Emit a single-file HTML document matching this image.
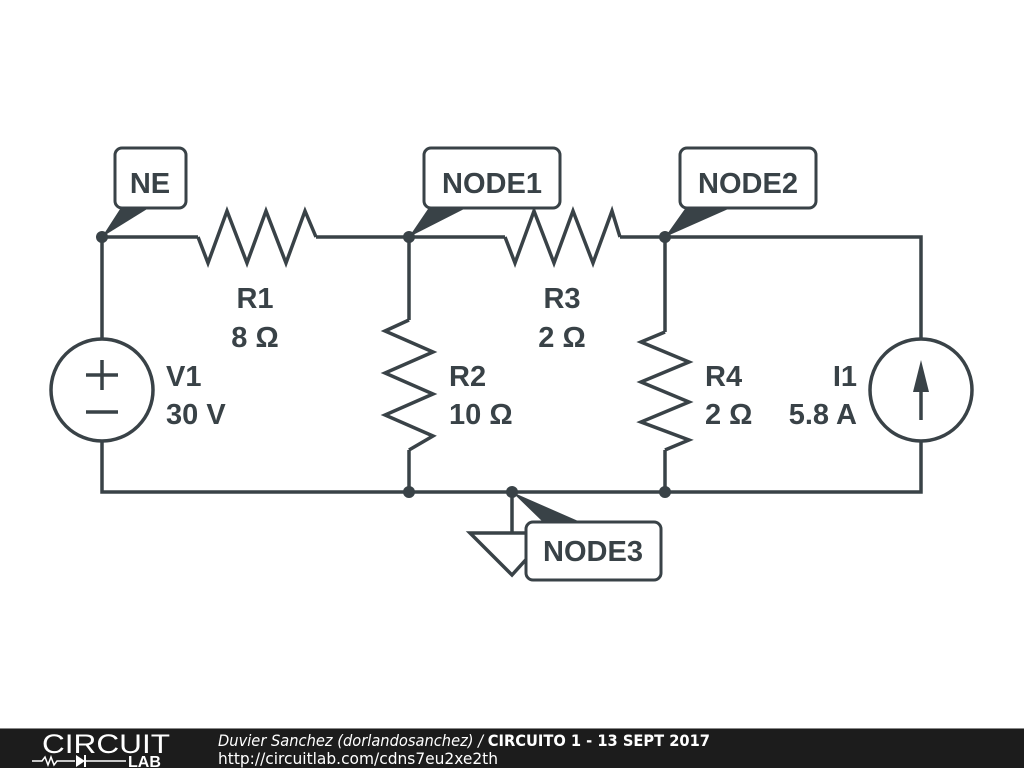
<!DOCTYPE html>
<html><head><style>
html,body{margin:0;padding:0;background:#fff;width:1024px;height:768px;overflow:hidden}
svg{display:block}
text{font-family:"Liberation Sans",sans-serif;font-weight:bold;fill:#394247}
</style></head><body>
<svg width="1024" height="768" viewBox="0 0 1024 768">
<g stroke="#394247" stroke-width="3.5" fill="none" stroke-linejoin="miter">
<polyline points="102,390 102,237 198,237"/>
<polyline points="316,237 505,237"/>
<polyline points="620,237 921,237 921,390"/>
<polyline points="102,390 102,492 921,492 921,390"/>
<line x1="409" y1="237" x2="409" y2="320"/>
<line x1="409" y1="450" x2="409" y2="492"/>
<line x1="665" y1="237" x2="665" y2="332"/>
<line x1="665" y1="450" x2="665" y2="492"/>
<polyline points="198,237 208,263 227,211 247,263 266,211 286,263 305,211 316,237" fill="#fff"/>
<polyline points="505,237 515,263 534,211 554,263 573,211 593,263 612,211 620,237" fill="#fff"/>
<polyline points="409,320 385,331 433,352 385,373 433,394 385,415 433,436 409,450" fill="#fff"/>
<polyline points="665,332 641,342 689,362 641,382 689,402 641,422 689,440 665,450" fill="#fff"/>
<circle cx="102" cy="390" r="51" fill="#fff"/>
<line x1="86" y1="375" x2="118" y2="375"/><line x1="102" y1="360" x2="102" y2="390"/>
<line x1="86" y1="412" x2="118" y2="412"/>
<circle cx="921" cy="390" r="51" fill="#fff"/>
<line x1="921" y1="420" x2="921" y2="380"/>
<line x1="512" y1="492" x2="512" y2="533"/>
<polygon points="470,533 550,533 512,575" fill="#fff"/>
</g>
<polygon points="921,360 913,392 929,392" fill="#394247"/>
<g fill="#394247">
<circle cx="102" cy="237" r="6"/><circle cx="409" cy="237" r="6"/><circle cx="665" cy="237" r="6"/>
<circle cx="409" cy="492" r="6"/><circle cx="665" cy="492" r="6"/><circle cx="512" cy="492" r="6"/>
<polygon points="102,237 122,206 152,206"/>
<polygon points="409,237 430,206 470,206"/>
<polygon points="665,237 687,206 735,206"/>
<polygon points="512,492 545,524 585,524"/>
</g>
<g stroke="#394247" stroke-width="3" fill="#fff">
<rect x="115" y="148" width="71" height="60" rx="7"/>
<rect x="424" y="148" width="136" height="60" rx="7"/>
<rect x="680" y="148" width="136" height="60" rx="7"/>
<rect x="526" y="522" width="135" height="58" rx="7"/>
</g>
<g font-size="29">
<text x="150" y="193" text-anchor="middle">NE</text>
<text x="492" y="193" text-anchor="middle">NODE1</text>
<text x="748" y="193" text-anchor="middle">NODE2</text>
<text x="593" y="561" text-anchor="middle">NODE3</text>
<text x="255" y="308" text-anchor="middle">R1</text>
<text x="255" y="347" text-anchor="middle">8 Ω</text>
<text x="562" y="308" text-anchor="middle">R3</text>
<text x="562" y="347" text-anchor="middle">2 Ω</text>
<text x="166" y="386">V1</text>
<text x="166" y="424">30 V</text>
<text x="449" y="386">R2</text>
<text x="449" y="424">10 Ω</text>
<text x="705" y="386">R4</text>
<text x="705" y="424">2 Ω</text>
<text x="857" y="386" text-anchor="end">I1</text>
<text x="857" y="424" text-anchor="end">5.8 A</text>
</g>
<rect x="0" y="729" width="1024" height="39" fill="#1c1c1c"/>
<line x1="0" y1="728.5" x2="1024" y2="728.5" stroke="#888" stroke-width="1"/>
<text x="42" y="753" font-size="27" textLength="128" lengthAdjust="spacingAndGlyphs" style="font-weight:normal;fill:#fff">CIRCUIT</text>
<g stroke="#fff" stroke-width="1.5" fill="none"><polyline points="32,761 42,761 45,757 48,765 51,757 54,765 57,761 75,761"/><line x1="84" y1="761" x2="126" y2="761"/></g>
<polygon points="76,755 76,767 85,761" fill="#fff"/>
<line x1="85" y1="755" x2="85" y2="767" stroke="#fff" stroke-width="2"/>
<text x="128" y="767" font-size="16" style="fill:#fff">LAB</text>
<text x="218" y="746" font-size="16" textLength="492" lengthAdjust="spacingAndGlyphs" style="font-weight:normal;font-style:italic;fill:#fff;font-family:'DejaVu Sans Condensed','DejaVu Sans',sans-serif">Duvier Sanchez (dorlandosanchez) / <tspan style="font-style:normal;font-weight:bold">CIRCUITO 1 - 13 SEPT 2017</tspan></text>
<text x="218" y="764" font-size="16" textLength="280" lengthAdjust="spacingAndGlyphs" style="font-weight:normal;fill:#fff;font-family:'DejaVu Sans Condensed','DejaVu Sans',sans-serif">http://circuitlab.com/cdns7eu2xe2th</text>
</svg>
</body></html>
